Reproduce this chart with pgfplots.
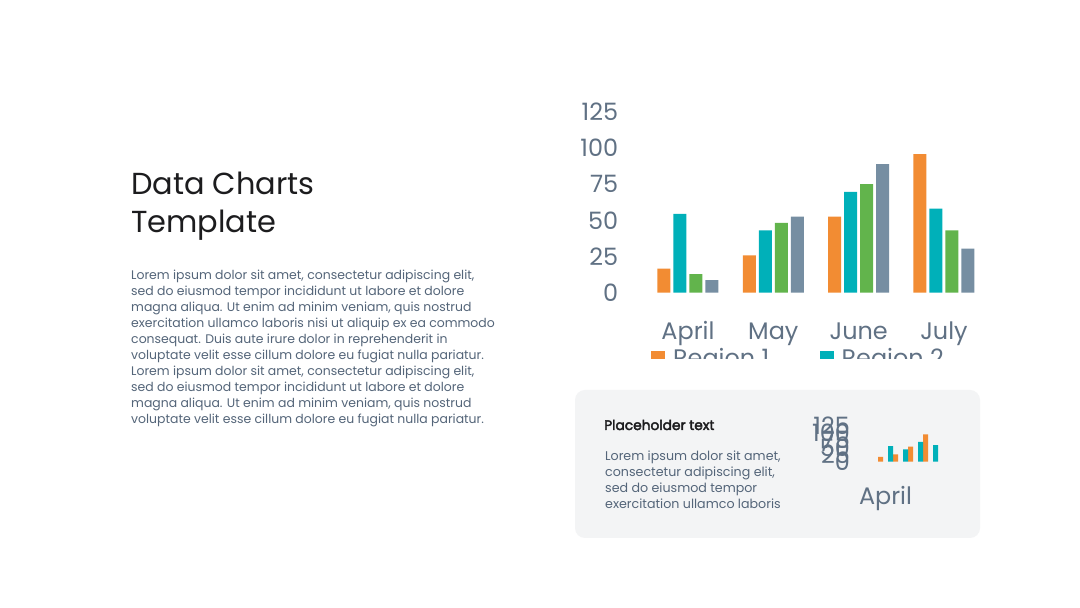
\documentclass[border=0pt]{standalone}
\usepackage{fontspec}
\setmainfont{Poppins}
\newfontfamily\medfont[FakeBold=3]{Poppins}
\usepackage{pgfplots}
\pgfplotsset{compat=1.18}
\definecolor{cOr}{RGB}{242,140,51}
\definecolor{cTe}{RGB}{0,176,185}
\definecolor{cGr}{RGB}{98,180,76}
\definecolor{cSl}{RGB}{118,142,162}
\definecolor{cTx}{RGB}{96,113,132}
\definecolor{cBody}{RGB}{84,101,121}
\definecolor{cTitle}{RGB}{28,28,30}
\definecolor{cBox}{RGB}{243,244,245}
\begin{document}
\begin{tikzpicture}[x=1bp,y=1bp]
\fill[white] (0,0) rectangle (1080,608);
\path[use as bounding box] (0,0) rectangle (1080,608);
% title
\node[anchor=base west, inner sep=0, font=\fontsize{30.5}{30.5}\selectfont, text=cTitle] at (131,413) {Data Charts};
\node[anchor=base west, inner sep=0, font=\fontsize{30.5}{30.5}\selectfont, text=cTitle] at (131,375) {Template};
% body text
\foreach \t [count=\i from 0] in {
{Lorem ipsum dolor sit amet, consectetur adipiscing elit,},
{sed do eiusmod tempor incididunt ut labore et dolore},
{magna aliqua. Ut enim ad minim veniam, quis nostrud},
{exercitation ullamco laboris nisi ut aliquip ex ea commodo},
{consequat. Duis aute irure dolor in reprehenderit in},
{voluptate velit esse cillum dolore eu fugiat nulla pariatur.},
{Lorem ipsum dolor sit amet, consectetur adipiscing elit,},
{sed do eiusmod tempor incididunt ut labore et dolore},
{magna aliqua. Ut enim ad minim veniam, quis nostrud},
{voluptate velit esse cillum dolore eu fugiat nulla pariatur.}}
{\node[anchor=base west, inner sep=0, font=\fontsize{12.5}{12.5}\selectfont, text=cBody] at (131,328-15.93*\i) {\t};}
% main chart
\begin{axis}[at={(645.3bp,315.3bp)}, anchor=south west, scale only axis,
  width=341.3bp, height=181bp, xmin=-0.5, xmax=3.5, ymin=0, ymax=125,
  bar width=13bp, axis line style={draw=none}, major tick length=0pt,
  xtick={0,1,2,3}, xticklabels={April,May,June,July},
  ytick={0,25,50,75,100,125}, yticklabels={0,25,50,75,100,125},
  tick label style={font=\fontsize{24}{24}\selectfont, text=cTx, inner sep=0pt},
  yticklabel style={anchor=east, xshift=-27bp},
  xticklabel style={anchor=base, yshift=-46.6bp},
  clip=false,
  legend columns=2,
  legend image code/.code={\fill[#1] (0bp,-7bp) rectangle (14bp,7bp);},
  legend style={at={(0.0167,-0.294)}, anchor=north west, draw=none, fill=none,
    inner sep=0pt, font=\fontsize{24}{24}\selectfont, text=cTx,
    /tikz/every odd column/.append style={column sep=6bp},
    /tikz/every even column/.append style={column sep=42bp}},
  legend cell align=left]
\addplot[ybar, bar shift=-24bp, fill=cOr, draw=none] coordinates {(0,16.7) (1,25.8) (2,52.5) (3,95.7)};
\addplot[ybar, bar shift=-8bp, fill=cTe, draw=none] coordinates {(0,54.4) (1,43) (2,69.7) (3,58)};
\addplot[ybar, bar shift=8bp, fill=cGr, draw=none] coordinates {(0,12.8) (1,48.2) (2,75) (3,43)};
\addplot[ybar, bar shift=24bp, fill=cSl, draw=none] coordinates {(0,8.7) (1,52.5) (2,88.8) (3,30.4)};
\legend{Region 1,Region 2,Region 3,Region 4}
\end{axis}
\fill[white] (560,608-359) rectangle (1000,608-410);
% box
\fill[cBox, rounded corners=10bp] (575,608-538) rectangle (980,608-390);
\node[anchor=base west, inner sep=0, font=\fontsize{13.8}{13.8}\medfont, text=cTitle] at (604,608-430) {Placeholder text};
\foreach \t [count=\i from 0] in {
{Lorem ipsum dolor sit amet,},
{consectetur adipiscing elit,},
{sed do eiusmod tempor},
{exercitation ullamco laboris}}
{\node[anchor=base west, inner sep=0, font=\fontsize{12.7}{12.7}\selectfont, text=cBody] at (605,608-460.7-16.1*\i) {\t};}
% mini chart
\begin{axis}[at={(878bp,146.3bp)}, anchor=south west, scale only axis,
  width=60bp, height=35.6bp, xmin=-0.5, xmax=3.5, ymin=0, ymax=125,
  bar width=5bp, axis line style={draw=none}, major tick length=0pt,
  xtick={0}, xticklabels={April},
  ytick={0,25,50,75,100,125}, yticklabels={0,25,50,75,100,125},
  tick label style={font=\fontsize{24}{24}\selectfont, text=cTx, inner sep=0pt},
  yticklabel style={anchor=east, xshift=-28bp},
  xticklabel style={anchor=base, yshift=-42.5bp},
  clip=false]
\addplot[ybar, bar shift=-5bp, fill=cOr, draw=none] coordinates {(0,16.7) (1,25.8) (2,52.5) (3,95.7)};
\addplot[ybar, bar shift=5bp, fill=cTe, draw=none] coordinates {(0,54.4) (1,43) (2,69.7) (3,58)};
\end{axis}
\end{tikzpicture}
\end{document}
